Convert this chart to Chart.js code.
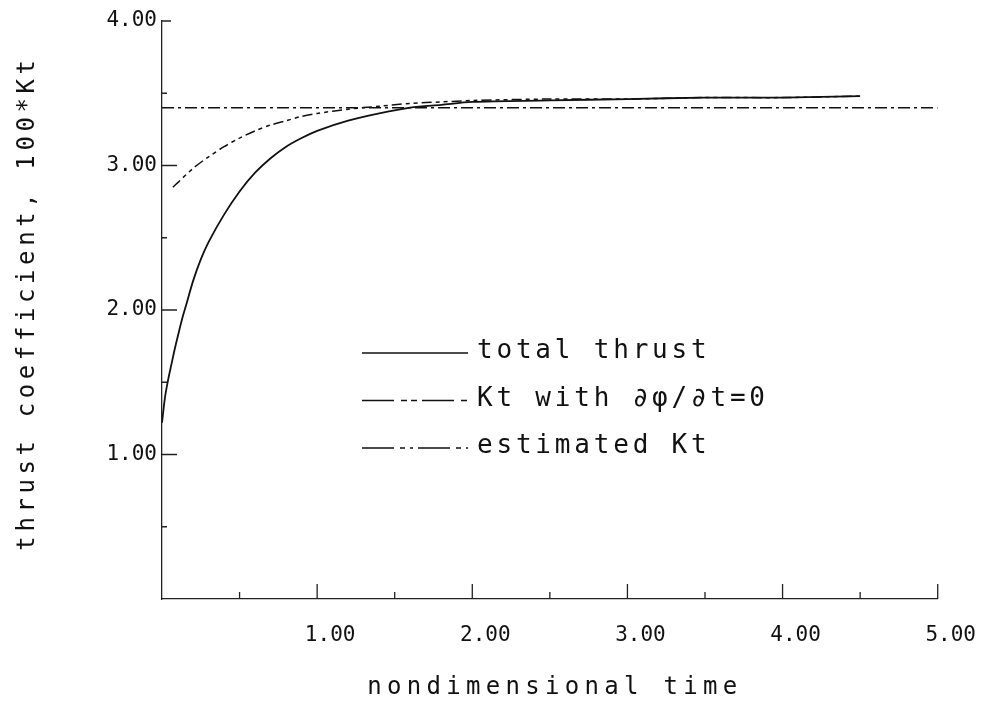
<!DOCTYPE html>
<html>
<head>
<meta charset="utf-8">
<script src="https://cdn.jsdelivr.net/npm/chart.js@4/dist/chart.umd.min.js"></script>
<style>
  html, body { margin: 0; padding: 0; background: #ffffff; }
  canvas { display: block; }
</style>
</head>
<body>
<canvas id="chart" width="987" height="701"></canvas>
<script>
// Nondimensional time samples and thrust coefficient (100*Kt) for each series
const totalTime = [0, 0.02, 0.04, 0.06, 0.08, 0.10, 0.13, 0.16, 0.20, 0.25, 0.30, 0.40, 0.50, 0.60, 0.70, 0.80, 0.90, 1.00, 1.20, 1.40, 1.60, 1.80, 2.00, 2.50, 3.00, 3.50, 4.00, 4.50];
const totalKt   = [1.22, 1.40, 1.52, 1.62, 1.72, 1.81, 1.94, 2.05, 2.20, 2.35, 2.47, 2.66, 2.82, 2.95, 3.05, 3.13, 3.19, 3.24, 3.31, 3.36, 3.40, 3.42, 3.44, 3.45, 3.46, 3.47, 3.47, 3.48];

const quasiTime = [0.07, 0.10, 0.20, 0.30, 0.40, 0.50, 0.60, 0.70, 0.80, 0.90, 1.00, 1.20, 1.40, 1.60, 1.80, 2.00, 2.50, 3.00, 3.50, 4.00, 4.50];
const quasiKt   = [2.85, 2.88, 2.98, 3.06, 3.13, 3.19, 3.24, 3.28, 3.31, 3.34, 3.36, 3.39, 3.41, 3.43, 3.44, 3.45, 3.46, 3.46, 3.47, 3.47, 3.48];

const estTime = [0, 5];
const estKt   = [3.40, 3.40];

// Axis ticks
const xMajor = [1, 2, 3, 4, 5];
const xMinor = [0.5, 1.5, 2.5, 3.5, 4.5];
const yMajor = [1, 2, 3, 4];
const yMinor = [0.5, 1.5, 2.5, 3.5];

// Text
const seriesNames = ['total thrust', 'Kt with \u2202\u03C6/\u2202t=0', 'estimated Kt'];
const xTitle = 'nondimensional time';
const yTitle = 'thrust coefficient, 100*Kt';

const zip = (xs, ys) => xs.map((x, i) => ({ x: x, y: ys[i] }));

const FONT = '"DejaVu Sans Mono", "Liberation Mono", monospace';
const INK = '#111111';

// Line patterns used for the legend samples (one period each)
const legendDash = [[], [32, 7, 6, 4, 6, 5], [32, 6, 5, 5, 3, 5]];

const plotterDecor = {
  id: 'plotterDecor',
  afterDraw(chart) {
    const ctx = chart.ctx;
    const xs = chart.scales.x, ys = chart.scales.y;
    const area = chart.chartArea;
    ctx.save();
    ctx.strokeStyle = '#222';
    ctx.lineWidth = 1.3;
    ctx.setLineDash([]);
    // inward tick marks
    ctx.beginPath();
    xMajor.forEach(v => { const p = xs.getPixelForValue(v); ctx.moveTo(p, area.bottom); ctx.lineTo(p, area.bottom - 15); });
    xMinor.forEach(v => { const p = xs.getPixelForValue(v); ctx.moveTo(p, area.bottom); ctx.lineTo(p, area.bottom - 7); });
    yMajor.forEach(v => { const p = ys.getPixelForValue(v); ctx.moveTo(area.left, p); ctx.lineTo(area.left + (v === 4 ? 9 : 15), p); });
    yMinor.forEach(v => { const p = ys.getPixelForValue(v); ctx.moveTo(area.left, p); ctx.lineTo(area.left + 5, p); });
    ctx.stroke();

    // axis titles
    ctx.fillStyle = INK;
    ctx.font = '24px ' + FONT;
    ctx.textAlign = 'center';
    ctx.textBaseline = 'middle';
    ctx.letterSpacing = '5.3px';
    ctx.fillText(xTitle, (area.left + area.right) / 2 + 5, 688);
    ctx.letterSpacing = '4.6px';
    ctx.save();
    ctx.translate(28, 303);
    ctx.rotate(-Math.PI / 2);
    ctx.fillText(yTitle, 0, 0);
    ctx.restore();

    // legend
    ctx.font = '26px ' + FONT;
    ctx.letterSpacing = '3.8px';
    ctx.textAlign = 'left';
    ctx.textBaseline = 'alphabetic';
    chart.data.datasets.forEach((ds, i) => {
      const ly = 353 + i * 47.5;
      ctx.beginPath();
      ctx.setLineDash(legendDash[i]);
      ctx.lineWidth = 1.5;
      ctx.strokeStyle = INK;
      ctx.moveTo(362, ly);
      ctx.lineTo(468, ly);
      ctx.stroke();
      ctx.setLineDash([]);
      ctx.fillText(ds.label, 477, ly + 5);
    });
    ctx.restore();
  }
};

new Chart(document.getElementById('chart'), {
  type: 'line',
  data: {
    datasets: [
      { label: seriesNames[0], data: zip(totalTime, totalKt), borderColor: INK, borderWidth: 1.8, pointRadius: 0, tension: 0.3, fill: false },
      { label: seriesNames[1], data: zip(quasiTime, quasiKt), borderColor: INK, borderWidth: 1.5, borderDash: [10, 4, 4, 4, 4, 4], pointRadius: 0, tension: 0.3, fill: false },
      { label: seriesNames[2], data: zip(estTime, estKt), borderColor: INK, borderWidth: 1.5, borderDash: [12, 4, 3, 4], pointRadius: 0, fill: false }
    ]
  },
  options: {
    responsive: false,
    animation: false,
    layout: { padding: { top: 21, right: 49, left: 0, bottom: 0 } },
    plugins: { legend: { display: false }, tooltip: { enabled: false }, title: { display: false } },
    scales: {
      x: {
        type: 'linear',
        min: 0, max: 5,
        afterBuildTicks: s => { s.ticks = xMajor.map(v => ({ value: v })); },
        afterFit: s => { s.height = 102; },
        grid: { display: false, drawTicks: false },
        border: { display: true, color: '#222', width: 1.3 },
        ticks: {
          padding: 24,
          labelOffset: 13,
          color: INK,
          font: { family: FONT, size: 21 },
          callback: v => Number(v).toFixed(2)
        }
      },
      y: {
        type: 'linear',
        min: 0, max: 4,
        afterBuildTicks: s => { s.ticks = yMajor.map(v => ({ value: v })); },
        afterFit: s => { s.width = 162; },
        grid: { display: false, drawTicks: false },
        border: { display: true, color: '#222', width: 1.3 },
        ticks: {
          padding: 5,
          color: INK,
          font: { family: FONT, size: 21 },
          callback: v => Number(v).toFixed(2)
        }
      }
    }
  },
  plugins: [plotterDecor]
});
</script>
</body>
</html>
